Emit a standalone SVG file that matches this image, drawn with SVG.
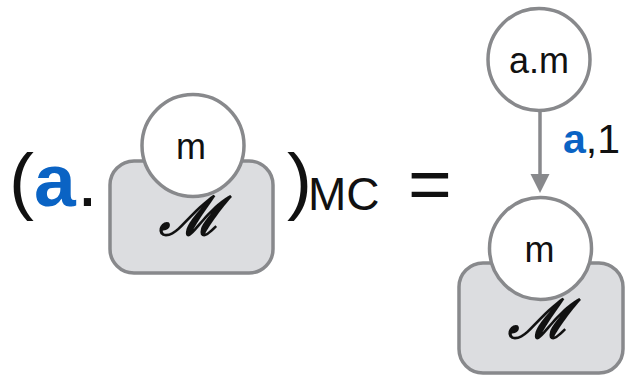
<svg xmlns="http://www.w3.org/2000/svg" width="628" height="376" viewBox="0 0 628 376">
  <style>
    .sans { font-family: "Liberation Sans", Arial, Helvetica, sans-serif; fill: #111; }
    .big { font-size: 75px; }
    .blue { fill: #0a63c4; font-weight: bold; }
    .label { font-size: 36px; text-anchor: middle; }
    .script { font-family: "DejaVu Serif", "Liberation Serif", serif; font-style: italic; font-weight: bold; font-size: 54px; text-anchor: middle; fill: #111; }
    .box { fill: #dcdde0; stroke: #88898c; stroke-width: 3.5; }
    .state { fill: #ffffff; stroke: #88898c; stroke-width: 3.5; }
    .edge { stroke: #88898c; stroke-width: 3.5; fill: none; }
  </style>

  <!-- left-hand side: ( a . [model] )MC -->
  <g id="lhs-expression">
    <text class="sans big" x="9" y="206">(</text>
    <text class="sans big blue" x="34" y="206" font-size="80">a</text>
    <text class="sans big" x="77" y="206">.</text>
    <text class="sans big" x="287" y="206">)</text>
    <text class="sans" x="308" y="210" font-size="46">MC</text>
  </g>

  <g id="lhs-model">
    <rect class="box" x="110" y="161" width="163" height="112" rx="24"/>
    <text class="script" x="190" y="235">ℳ</text>
  </g>
  <g id="lhs-state">
    <circle class="state" cx="193" cy="145.5" r="51"/>
    <text class="sans label" x="191" y="159">m</text>
  </g>

  <text class="sans big" x="408" y="209">=</text>

  <!-- right-hand side: state a.m with a transition labelled (a,1) into m -->
  <g id="connectors">
    <line class="edge" x1="540" y1="111" x2="540" y2="178"/>
    <polygon points="530.5,174 549.5,174 540,193" fill="#88898c"/>
    <text class="sans" x="563" y="153" font-size="41"><tspan class="blue">a</tspan>,1</text>
  </g>

  <g id="node-am">
    <circle class="state" cx="539" cy="59.5" r="51"/>
    <text class="sans label" x="539" y="73">a.m</text>
  </g>

  <g id="rhs-model">
    <rect class="box" x="459" y="263" width="164" height="110" rx="24"/>
    <text class="script" x="539" y="338">ℳ</text>
  </g>
  <g id="rhs-state">
    <circle class="state" cx="540.5" cy="248.5" r="51"/>
    <text class="sans label" x="539.5" y="262">m</text>
  </g>
</svg>
